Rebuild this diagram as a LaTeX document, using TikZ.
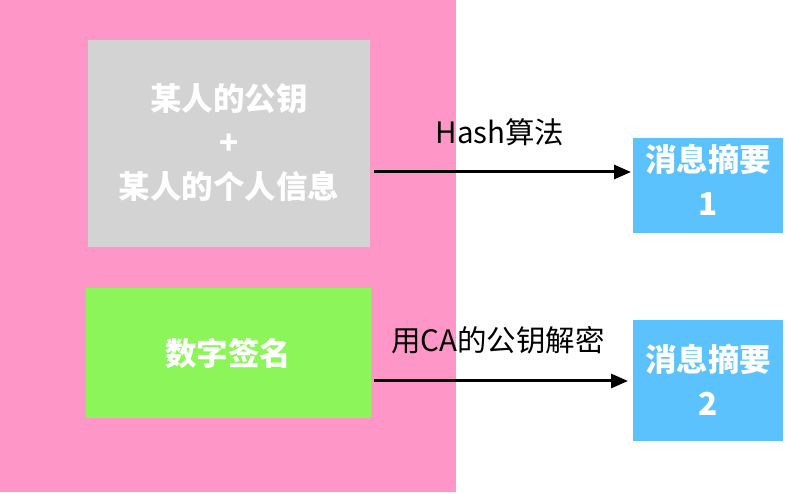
\documentclass[tikz,border=0pt]{standalone}
\usepackage{fontspec}
\setmainfont{Noto Sans CJK SC}
\usetikzlibrary{arrows.meta}
\definecolor{pinkbg}{HTML}{FF96C8}
\definecolor{grayb}{HTML}{D3D3D3}
\definecolor{greenb}{HTML}{8CF55A}
\definecolor{blueb}{HTML}{5CC2FD}
\tikzset{x=1pt,y=-1pt,
 boxtxt/.style={text=white,font=\fontsize{31.5}{44}\selectfont\bfseries,align=center},
 arr/.style={line width=3pt,-{Triangle[length=17pt,width=14pt]}},
 lbl/.style={font=\fontsize{29.5}{34}\selectfont}}
\begin{document}
\begin{tikzpicture}
\useasboundingbox (0,0) rectangle (785,494);
\fill[pinkbg] (0,0) rectangle (456,492);
\fill[grayb] (88,40) rectangle (370,247);
\node[boxtxt] (g) at (229,143) {某人的公钥\\+\\某人的个人信息};
\fill[greenb] (86,288) rectangle (371,418);
\node[boxtxt] (s) at (228,353) {数字签名};
\fill[blueb] (633,138) rectangle (783,233);
\node[boxtxt] (m1) at (708,180) {消息摘要\\1};
\fill[blueb] (633,320) rectangle (783,441);
\node[boxtxt] (m2) at (708,380) {消息摘要\\2};
\coordinate (a1s) at (374,172); \coordinate (a1e) at (631,172);
\coordinate (a2s) at (374,381); \coordinate (a2e) at (628,381);
\draw[arr] (a1s) -- (a1e);
\draw[arr] (a2s) -- (a2e);
\node[lbl] (l1) at (500,132) {Hash算法};
\node[lbl] (l2) at (498,340) {用CA的公钥解密};
\end{tikzpicture}
\end{document}
